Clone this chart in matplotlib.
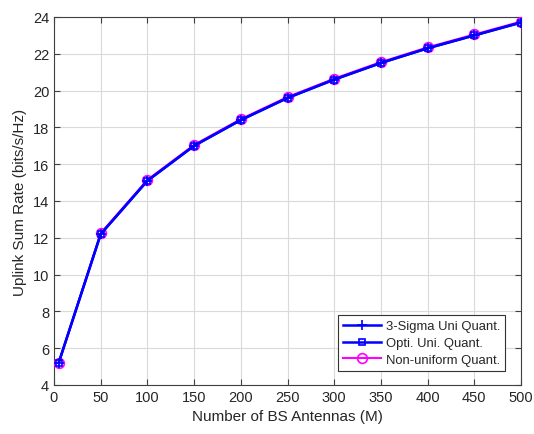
import matplotlib
matplotlib.use('Agg')
import matplotlib.pyplot as plt


# number of BS antennas
antennas = [5, 50, 100, 150, 200, 250, 300, 350, 400, 450, 500]

# uplink sum rate (bits/s/Hz)
rate_3sigma = [5.2, 12.2, 15.1, 17.0, 18.4, 19.6, 20.6, 21.5, 22.3, 23.0, 23.7]
rate_opti = [5.2, 12.2, 15.1, 17.0, 18.4, 19.6, 20.6, 21.5, 22.3, 23.0, 23.7]
rate_nonuni = [5.2, 12.25, 15.15, 17.05, 18.45, 19.65, 20.65, 21.55, 22.35, 23.05, 23.75]

x_ticks = list(range(0, 501, 50))
y_ticks = list(range(4, 25, 2))


def main():
    plt.rcParams['font.family'] = ['Liberation Sans', 'DejaVu Sans']
    fig = plt.figure(figsize=(5.34, 4.35), dpi=100)
    ax = fig.add_axes([54/534, 1-386/435, (521-54)/534, (386-18)/435])

    ax.plot(antennas, rate_nonuni, color='magenta', lw=1.5, marker='o',
            ms=7, mfc='none', mec='magenta', mew=1.2, label='Non-uniform Quant.', zorder=3)
    ax.plot(antennas, rate_3sigma, color='blue', lw=1.8, marker='+',
            ms=7, mew=1.2, label='3-Sigma Uni Quant.', zorder=4)
    ax.plot(antennas, rate_opti, color='blue', lw=1.8, marker='s',
            ms=5, mfc='none', mec='blue', mew=1.2, label='Opti. Uni. Quant.', zorder=5)

    ax.set_xlim(0, 500)
    ax.set_ylim(4, 24)
    ax.set_xticks(x_ticks)
    ax.set_yticks(y_ticks)
    ax.grid(True, color='#dadada', lw=0.8)
    ax.set_axisbelow(True)
    ax.tick_params(direction='in', length=4, labelsize=10.5, top=True, right=True,
                   colors='#404040', labelcolor='#262626')
    for s in ax.spines.values():
        s.set_color('#404040')

    ax.set_xlabel('Number of BS Antennas (M)', fontsize=11, color='#262626')
    ax.set_ylabel('Uplink Sum Rate (bits/s/Hz)', fontsize=11, color='#262626')

    handles, labels = ax.get_legend_handles_labels()
    order = [1, 2, 0]
    leg = ax.legend([handles[i] for i in order], [labels[i] for i in order],
                    loc='lower right', bbox_to_anchor=(0.966, 0.038),
                    borderaxespad=0, fontsize=9.4, fancybox=False,
                    framealpha=1, edgecolor='#333333', handlelength=2.9,
                    handletextpad=0.35, borderpad=0.4, labelspacing=0.35)
    leg.get_frame().set_linewidth(0.8)
    for t in leg.get_texts():
        t.set_color('#262626')

    fig.savefig('out.png', dpi=100)


if __name__ == '__main__':
    main()
